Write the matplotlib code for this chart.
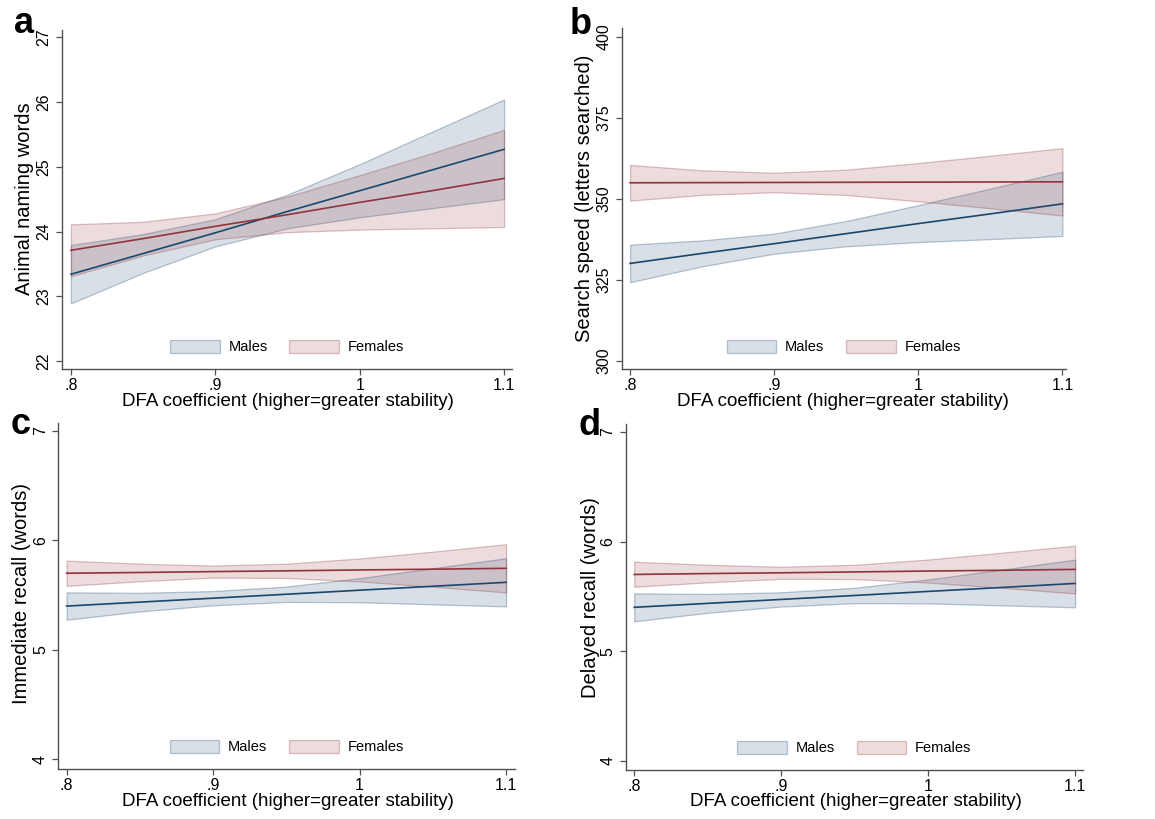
import matplotlib
matplotlib.use("Agg")
import matplotlib.pyplot as plt
from matplotlib.colors import to_rgba
from matplotlib.patches import Patch

plt.rcParams['font.family'] = ['Liberation Sans', 'DejaVu Sans']

# ---------------- data ----------------
dfa = [0.80, 0.85, 0.90, 0.95, 1.00, 1.05, 1.10]
xtick_vals = [0.8, 0.9, 1.0, 1.1]
xtick_labels = [".8", ".9", "1", "1.1"]
xlabel = "DFA coefficient (higher=greater stability)"
groups = ["Males", "Females"]

# panel a: animal naming
a_male = [23.34, 23.66, 23.98, 24.31, 24.63, 24.95, 25.27]
a_male_lo = [22.89, 23.36, 23.77, 24.05, 24.22, 24.36, 24.50]
a_male_hi = [23.79, 23.96, 24.19, 24.57, 25.04, 25.54, 26.04]
a_fem = [23.71, 23.89, 24.08, 24.26, 24.45, 24.63, 24.82]
a_fem_lo = [23.31, 23.63, 23.88, 23.99, 24.03, 24.05, 24.07]
a_fem_hi = [24.11, 24.15, 24.28, 24.54, 24.87, 25.21, 25.57]
a_yticks = [22, 23, 24, 25, 26, 27]

# panel b: search speed
b_male = [330.0, 333.1, 336.1, 339.2, 342.3, 345.3, 348.4]
b_male_lo = [324.2, 329.1, 333.0, 335.3, 336.6, 337.5, 338.5]
b_male_hi = [335.8, 337.1, 339.2, 343.1, 348.0, 353.1, 358.3]
b_fem = [354.9, 354.95, 355.0, 355.05, 355.1, 355.15, 355.2]
b_fem_lo = [349.4, 351.15, 352.0, 351.15, 349.2, 347.05, 344.8]
b_fem_hi = [360.4, 358.75, 358.0, 358.95, 361.0, 363.25, 365.6]
b_yticks = [300, 325, 350, 375, 400]

# panel c: immediate recall
c_male = [5.400, 5.436, 5.472, 5.508, 5.545, 5.581, 5.617]
c_male_lo = [5.275, 5.351, 5.407, 5.438, 5.435, 5.416, 5.397]
c_male_hi = [5.525, 5.521, 5.537, 5.578, 5.655, 5.746, 5.837]
c_fem = [5.700, 5.707, 5.715, 5.722, 5.730, 5.737, 5.745]
c_fem_lo = [5.585, 5.627, 5.660, 5.657, 5.625, 5.577, 5.525]
c_fem_hi = [5.815, 5.787, 5.770, 5.787, 5.835, 5.897, 5.965]
c_yticks = [4, 5, 6, 7]

# panel d: delayed recall
d_male = [5.400, 5.436, 5.472, 5.508, 5.545, 5.581, 5.618]
d_male_lo = [5.272, 5.350, 5.407, 5.438, 5.436, 5.418, 5.400]
d_male_hi = [5.527, 5.522, 5.537, 5.578, 5.654, 5.744, 5.835]
d_fem = [5.700, 5.708, 5.715, 5.723, 5.731, 5.738, 5.746]
d_fem_lo = [5.588, 5.628, 5.660, 5.658, 5.626, 5.578, 5.527]
d_fem_hi = [5.816, 5.788, 5.770, 5.788, 5.836, 5.898, 5.962]
d_yticks = [4, 5, 6, 7]

ylabels = ["Animal naming words", "Search speed (letters searched)",
           "Immediate recall (words)", "Delayed recall (words)"]
letters = ["a", "b", "c", "d"]

# ---------------- style ----------------
W, H = 1155, 819
MALE = "#1a476f"
FEM = "#90353b"
AXC = "#505050"

fig = plt.figure(figsize=(W / 100, H / 100), dpi=100)


def rect(l, t, r, b):
    return [l / W, 1 - b / H, (r - l) / W, (b - t) / H]


panels = [
    dict(r=rect(62, 30, 512, 369), xl=(0.7938, 1.1055), yl=(21.876, 27.113),
         yt=a_yticks, m=(a_male, a_male_lo, a_male_hi), f=(a_fem, a_fem_lo, a_fem_hi),
         lab=(25, 199), let=(14, 33), xlab=(288, 401)),
    dict(r=rect(621.7, 28, 1066, 369), xl=(0.7942, 1.1025), yl=(297.4, 402.7),
         yt=b_yticks, m=(b_male, b_male_lo, b_male_hi), f=(b_fem, b_fem_lo, b_fem_hi),
         lab=(585, 198), let=(570, 34), xlab=(843, 401)),
    dict(r=rect(58.3, 423, 515, 769), xl=(0.7943, 1.1061), yl=(3.911, 7.073),
         yt=c_yticks, m=(c_male, c_male_lo, c_male_hi), f=(c_fem, c_fem_lo, c_fem_hi),
         lab=(22, 594), let=(11, 434), xlab=(288, 802)),
    dict(r=rect(626, 424, 1083, 769.7), xl=(0.7944, 1.1054), yl=(3.918, 7.073),
         yt=d_yticks, m=(d_male, d_male_lo, d_male_hi), f=(d_fem, d_fem_lo, d_fem_hi),
         lab=(590, 598), let=(578, 435), xlab=(856, 802)),
]

for i, p in enumerate(panels):
    ax = fig.add_axes(p["r"])
    for (mid, lo, hi), col in ((p["m"], MALE), (p["f"], FEM)):
        ax.fill_between(dfa, lo, hi, facecolor=to_rgba(col, 0.17),
                        edgecolor=to_rgba(col, 0.30), linewidth=0.9, zorder=2)
    for (mid, lo, hi), col in ((p["m"], MALE), (p["f"], FEM)):
        ax.plot(dfa, mid, color=col, lw=1.2, zorder=3)
    ax.set_xlim(*p["xl"])
    ax.set_ylim(*p["yl"])
    ax.set_xticks(xtick_vals)
    ax.set_xticklabels(xtick_labels)
    ax.set_yticks(p["yt"])
    ax.set_yticklabels([str(v) for v in p["yt"]], rotation=90, va="center")
    for s in ("top", "right"):
        ax.spines[s].set_visible(False)
    for s in ("left", "bottom"):
        ax.spines[s].set_color(AXC)
        ax.spines[s].set_linewidth(1.0)
    ax.tick_params(axis="both", direction="out", length=4.5, width=0.9,
                   color=AXC, labelsize=11.5, pad=2)
    ax.tick_params(axis="y", pad=3)
    handles = [Patch(facecolor=to_rgba(MALE, 0.17), edgecolor=to_rgba(MALE, 0.30), lw=0.9),
               Patch(facecolor=to_rgba(FEM, 0.17), edgecolor=to_rgba(FEM, 0.30), lw=0.9)]
    ax.legend(handles, groups, loc="lower center", bbox_to_anchor=(0.5, 0.0),
              ncol=2, frameon=False, fontsize=10.5, handlelength=3.4,
              handleheight=1.0, handletextpad=0.6, columnspacing=1.5,
              borderaxespad=0.6)
    fig.text(p["lab"][0] / W, 1 - p["lab"][1] / H, ylabels[i], rotation=90,
             ha="center", va="center", fontsize=14.5)
    fig.text(p["xlab"][0] / W, 1 - p["xlab"][1] / H, xlabel,
             ha="center", va="center", fontsize=13.5)
    fig.text(p["let"][0] / W, 1 - p["let"][1] / H, letters[i],
             ha="left", va="baseline", fontsize=26, fontweight="bold")

fig.savefig("out.png", dpi=100)
